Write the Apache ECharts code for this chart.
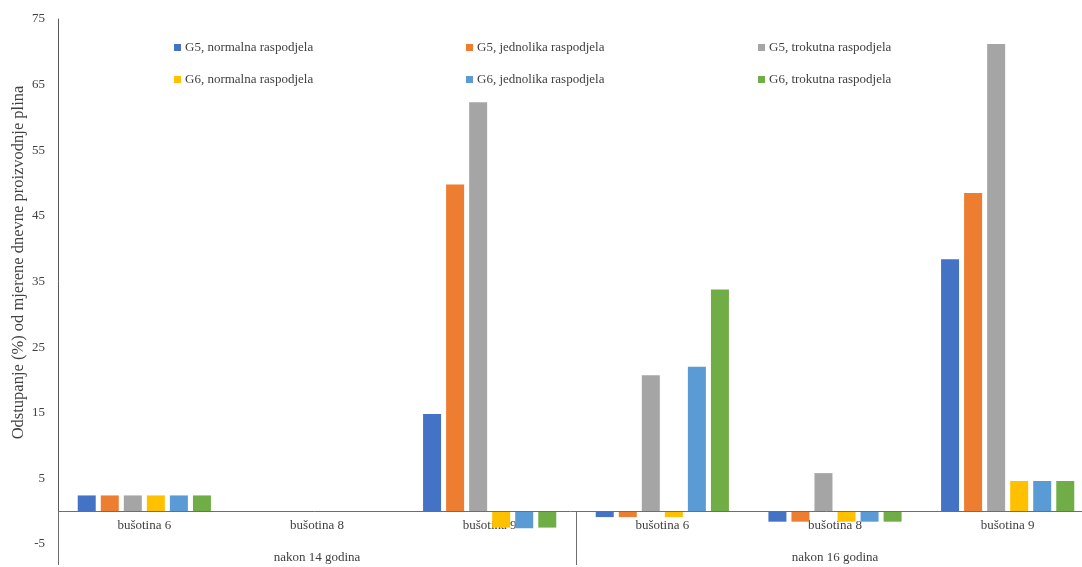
<!DOCTYPE html>
<html>
<head>
<meta charset="utf-8">
<script src="https://cdn.jsdelivr.net/npm/echarts@6/dist/echarts.min.js"></script>
<style>html,body{margin:0;padding:0;background:#fff}#c{width:1082px;height:567px}</style>
</head>
<body>
<div id="c"></div>
<script>
var categories = ['bušotina 6', 'bušotina 8', 'bušotina 9', 'bušotina 6', 'bušotina 8', 'bušotina 9'];
var groups = ['nakon 14 godina', 'nakon 16 godina'];
var seriesNames = ['G5, normalna raspodjela', 'G5, jednolika raspodjela', 'G5, trokutna raspodjela',
                   'G6, normalna raspodjela', 'G6, jednolika raspodjela', 'G6, trokutna raspodjela'];
var g5Normalna   = [2.4, 0, 14.8, -0.9, -1.6, 38.4];
var g5Jednolika  = [2.4, 0, 49.8, -0.9, -1.6, 48.5];
var g5Trokutna   = [2.4, 0, 62.3, 20.7, 5.8, 71.2];
var g6Normalna   = [2.4, 0, -2.5, -0.9, -1.6, 4.6];
var g6Jednolika  = [2.4, 0, -2.6, 22.0, -1.6, 4.6];
var g6Trokutna   = [2.4, 0, -2.5, 33.8, -1.6, 4.6];
var yTicks = [-5, 5, 15, 25, 35, 45, 55, 65, 75];
var yTitle = 'Odstupanje (%) od mjerene dnevne proizvodnje plina';

var colors = ['#4472C4', '#ED7D31', '#A5A5A5', '#FFC000', '#5B9BD5', '#70AD47'];
var allData = [g5Normalna, g5Jednolika, g5Trokutna, g6Normalna, g6Jednolika, g6Trokutna];
var font = 'Liberation Serif';
var axisColor = '#6e6e6e';

var chart = echarts.init(document.getElementById('c'), null, {renderer: 'canvas'});
var series = seriesNames.map(function (n, i) {
  var s = {
    name: n, type: 'bar', xAxisIndex: 0, data: allData[i],
    barWidth: 18, barGap: '28%',
    itemStyle: {color: colors[i]}
  };
  if (i === 0) {
    s.markLine = {
      silent: true, symbol: 'none', animation: false,
      label: {show: false},
      lineStyle: {color: axisColor, type: 'solid', width: 1},
      data: [{yAxis: 0}]
    };
  }
  return s;
});

var legendCols = [169, 461, 753];
var legendRows = [36, 68];
var legends = seriesNames.map(function (n, i) {
  return {
    data: [n], left: legendCols[i % 3], top: legendRows[Math.floor(i / 3)],
    icon: 'rect', itemWidth: 7, itemHeight: 7, itemGap: 4,
    textStyle: {fontFamily: font, fontSize: 13, color: '#404040', padding: [0, 0, 0, -1]}
  };
});

chart.setOption({
  animation: false,
  color: colors,
  grid: {left: 58, top: 19, width: 1036, height: 525, containLabel: false, outerBoundsMode: 'none'},
  legend: legends,
  xAxis: [{
    type: 'category', data: categories, position: 'bottom',
    axisLine: {show: false, onZero: false},
    axisTick: {show: false},
    axisLabel: {inside: true, fontFamily: font, fontSize: 13, color: '#404040', margin: 12, interval: 0}
  }, {
    type: 'category', data: groups, position: 'bottom', offset: 21,
    axisLine: {show: false, onZero: false},
    axisTick: {show: true, inside: true, length: 54, lineStyle: {color: axisColor, width: 1}},
    axisLabel: {inside: true, fontFamily: font, fontSize: 13, color: '#404040', margin: 1, interval: 0}
  }],
  yAxis: {
    type: 'value', min: yTicks[0], max: yTicks[yTicks.length - 1], interval: yTicks[1] - yTicks[0],
    name: yTitle, nameLocation: 'middle', nameGap: 31, nameRotate: 90, nameMoveOverlap: false,
    nameTextStyle: {fontFamily: font, fontSize: 16.5, color: '#404040', padding: [0, 0, 0, 38]},
    axisLine: {show: true, lineStyle: {color: '#595959', width: 1}},
    axisTick: {show: false},
    splitLine: {show: false},
    axisLabel: {fontFamily: font, fontSize: 13, color: '#404040', margin: 13}
  },
  series: series
});
</script>
</body>
</html>
